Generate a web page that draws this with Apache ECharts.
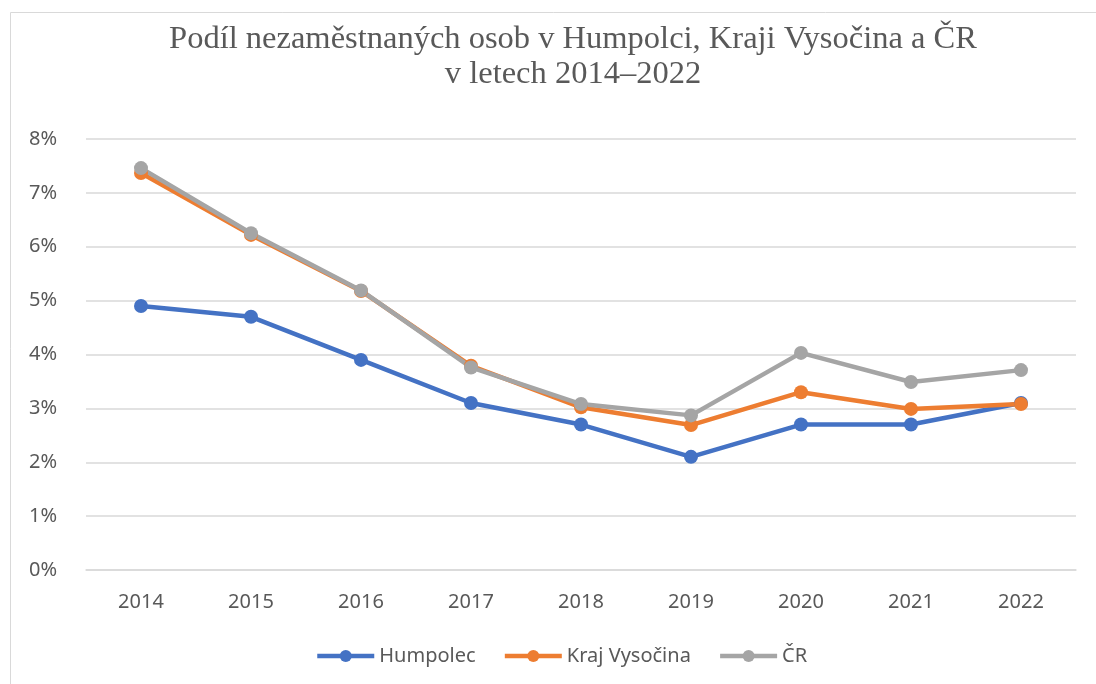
<!DOCTYPE html>
<html lang="cs">
<head>
    <meta charset="utf-8">
    <title>Podíl nezaměstnaných osob</title>
    <script src="https://cdn.jsdelivr.net/npm/echarts@6/dist/echarts.min.js"></script>
    <style>
        html, body { margin: 0; padding: 0; background: #fff; }
        #main { width: 1096px; height: 684px; }
    </style>
</head>
<body>
<div id="main"></div>

<script type="text/javascript">
    var years = ['2014', '2015', '2016', '2017', '2018', '2019', '2020', '2021', '2022'];
    var humpolec = [4.9, 4.7, 3.9, 3.1, 2.7, 2.1, 2.7, 2.7, 3.1];
    var kraj = [7.37, 6.22, 5.18, 3.79, 3.02, 2.69, 3.3, 2.99, 3.08];
    var cr = [7.46, 6.25, 5.19, 3.76, 3.08, 2.87, 4.03, 3.49, 3.71];

    var myChart = echarts.init(document.getElementById('main'));

    function lineSeries(name, data, color) {
        return {
            name: name,
            type: 'line',
            data: data,
            symbol: 'circle',
            symbolSize: 14,
            lineStyle: { width: 4.5, color: color },
            itemStyle: { color: color },
            animation: false
        };
    }

    // font podobný Calibri
    var labelFont = 'Noto Sans';

    myChart.setOption({
        animation: false,
        color: ['#4472C4', '#ED7D31', '#A5A5A5'],
        title: {
            text: 'Podíl nezaměstnaných osob v Humpolci, Kraji Vysočina a ČR\nv letech 2014–2022',
            left: 568,
            textAlign: 'center',
            top: 17,
            textStyle: {
                fontFamily: 'Liberation Serif',
                fontWeight: 'normal',
                fontSize: 32.5,
                lineHeight: 35,
                color: '#595959'
            }
        },
        graphic: [{
            type: 'rect',
            shape: { x: 10.5, y: 12.5, width: 1200, height: 800 },
            style: { fill: 'none', stroke: '#d9d9d9', lineWidth: 1 },
            silent: true
        }],
        legend: {
            data: ['Humpolec', 'Kraj Vysočina', 'ČR'],
            top: 641,
            left: 310,
            itemWidth: 57,
            itemHeight: 15,
            itemGap: 27,
            lineStyle: { width: 4.5 },
            textStyle: { fontFamily: labelFont, fontSize: 20, color: '#595959' }
        },
        grid: { left: 86, right: 20, top: 139, bottom: 114 },
        xAxis: {
            type: 'category',
            data: years,
            axisLine: { lineStyle: { color: '#d9d9d9', width: 1.5 } },
            axisTick: { show: false },
            axisLabel: { margin: 22, fontFamily: labelFont, fontSize: 20, color: '#595959' }
        },
        yAxis: {
            type: 'value',
            min: 0,
            max: 8,
            interval: 1,
            axisLine: { show: false },
            axisTick: { show: false },
            splitLine: { lineStyle: { color: '#d9d9d9', width: 1.5 } },
            axisLabel: {
                margin: 29,
                fontFamily: labelFont,
                fontSize: 20,
                color: '#595959',
                formatter: '{value}%'
            }
        },
        series: [
            lineSeries('Humpolec', humpolec, '#4472C4'),
            lineSeries('Kraj Vysočina', kraj, '#ED7D31'),
            lineSeries('ČR', cr, '#A5A5A5')
        ]
    });
</script>
</body>
</html>
